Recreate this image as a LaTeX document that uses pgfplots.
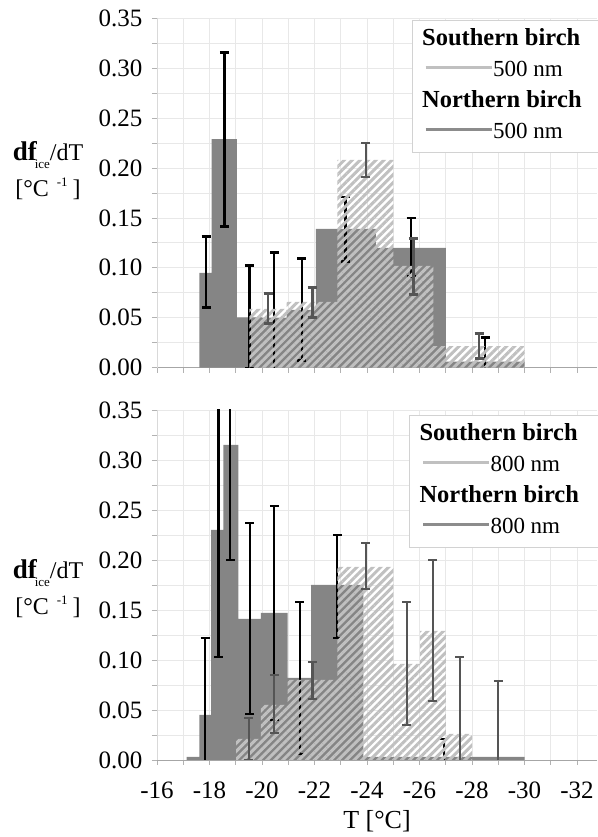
\documentclass[border=0pt]{standalone}
\usepackage{fontspec}
\setmainfont{Liberation Serif}
\usepackage{pgfplots}
\pgfplotsset{compat=1.18}
\usetikzlibrary{patterns.meta}
\definecolor{darkbar}{RGB}{133,133,133}
\definecolor{hatchc}{RGB}{192,192,192}
\definecolor{errgray}{RGB}{85,85,85}
\definecolor{gridc}{RGB}{232,232,232}
\definecolor{legline}{RGB}{140,140,140}

\pgfplotsset{
  panel/.style={
    scale only axis, width=440pt, height=349.5pt,
    x dir=reverse, xmin=-32.76, xmax=-16, ymin=0, ymax=0.35,
    xtick={-32,-30,-28,-26,-24,-22,-20,-18,-16},
    ytick={0,0.05,0.10,0.15,0.20,0.25,0.30,0.35},
    minor x tick num=1, minor y tick num=1,
    grid=both,
    major grid style={gridc, line width=0.8pt},
    minor grid style={gridc, line width=0.8pt},
    axis x line*=bottom, axis y line*=left,
    x axis line style={gray!70, line width=0.8pt},
    y axis line style={gray!30, line width=0.8pt},
    tick align=outside, major tick length=5pt, minor tick length=5pt,
    tick style={gray!60, line width=0.8pt},
    /pgf/number format/assume math mode=true,
    tick label style={font=\fontsize{25}{25}\selectfont},
    yticklabel style={xshift=-6pt, /pgf/number format/.cd, fixed, fixed zerofill, precision=2},
    xticklabel style={yshift=-13pt},
    clip mode=individual,
    every axis y label/.style={at={(axis description cs:-0.2477,0.564)}, anchor=center, align=center, font=\fontsize{24}{36}\selectfont},
    ylabel={{\fontsize{27}{27}\selectfont\bfseries df}\kern-2pt\raisebox{-8pt}{\fontsize{13}{13}\selectfont ice}/dT\\{[}°C\hspace{8pt}\raisebox{10pt}{\fontsize{13}{13}\selectfont -1}\hspace{5pt}{]}},
    legend cell align=left,
    legend style={font=\fontsize{23}{23}\selectfont, nodes={inner sep=0pt, text height=17pt, text depth=6pt},
      row sep=8pt, inner xsep=12pt, inner ysep=8pt, draw=gray!35, line width=0.8pt, fill=white,
      /tikz/every even column/.append style={column sep=5pt}},
  },
  nerr/.style={forget plot, draw=none, mark=none, error bars/.cd, y dir=both, y explicit, error mark=-,
    error bar style={line width=2.2pt, draw=black}, error mark options={rotate=90, draw=black, mark size=4.5pt, line width=2.8pt}},
  serr/.style={forget plot, draw=none, mark=none, error bars/.cd, y dir=both, y explicit, error mark=-,
    error bar style={line width=2.2pt, draw=errgray}, error mark options={rotate=90, draw=errgray, mark size=4.5pt, line width=2.8pt}},
  nbar/.style={const plot, fill=darkbar, draw=none, forget plot},
  sbar/.style={const plot, draw=none, pattern={Lines[angle=45,distance=5.6pt,line width=3pt]}, pattern color=hatchc, forget plot},
}

\begin{document}
\begin{tikzpicture}
% ---------------- top panel: 500 nm ----------------
\begin{axis}[panel, at={(157pt,469.3pt)}, anchor=south west, xticklabels={},
  legend style={at={(axis description cs:0.579,0.995)}, anchor=north west}]
\addplot[nbar] coordinates {(-17.61,0.095) (-18.08,0.229) (-19.04,0.0505) (-20.0,0.05) (-20.94,0.058) (-22.05,0.139) (-24.34,0.120) (-27.0,0.006) (-30.0,0.006)} \closedcycle;
\addplot[nerr] coordinates {
  (-17.87,0.0955) +- (0,0.0355)
  (-18.57,0.2285) +- (0,0.0875)
  (-19.52,0.0505) +- (0,0.0515)
  (-20.47,0.05) +- (0,0.065)
  (-21.51,0.058) +- (0,0.051)
  (-23.18,0.1385) +- (0,0.0325)
  (-25.68,0.1205) +- (0,0.0295)
  (-28.5,0.006) +- (0,0.024)
};
\addplot[sbar] coordinates {(-19.52,0.059) (-20.94,0.066) (-22.87,0.208) (-25.0,0.102) (-26.53,0.0217) (-30.0,0.0217)} \closedcycle;
\addplot[serr] coordinates {
  (-20.24,0.059) +- (0,0.015)
  (-21.92,0.065) +- (0,0.015)
  (-23.96,0.208) +- (0,0.017)
  (-25.77,0.101) +- (0,0.028)
  (-28.27,0.0215) +- (0,0.0125)
};
\addlegendimage{empty legend}
\addlegendentry{\hspace*{-71pt}{\fontsize{24.5}{24.5}\selectfont\bfseries Southern birch}\hspace*{8pt}}
\addlegendimage{legend image code/.code={\draw[hatchc, line width=3pt] (0pt,3pt) -- (66pt,3pt);}}
\addlegendentry{500 nm}
\addlegendimage{empty legend}
\addlegendentry{\hspace*{-71pt}{\fontsize{24.5}{24.5}\selectfont\bfseries Northern birch}\hspace*{8pt}}
\addlegendimage{legend image code/.code={\draw[legline, line width=3pt] (0pt,3pt) -- (66pt,3pt);}}
\addlegendentry{500 nm}
\end{axis}
% ---------------- bottom panel: 800 nm ----------------
\begin{axis}[panel, at={(157pt,77pt)}, anchor=south west, height=350pt,
  every axis y label/.append style={at={(axis description cs:-0.2477,0.491)}},
  xlabel={T [°C]},
  every axis x label/.style={at={(axis description cs:0.5,0)}, anchor=base, yshift=-68pt, font=\fontsize{26}{26}\selectfont},
  legend style={at={(axis description cs:0.573,0.986)}, anchor=north west}]
\addplot[nbar] coordinates {(-17.13,0.003) (-17.61,0.045) (-18.06,0.23) (-18.53,0.315) (-19.1,0.141) (-19.96,0.147) (-20.98,0.082) (-21.87,0.175) (-23.86,0.003) (-30.0,0.003)} \closedcycle;
\addplot[nerr] coordinates {
  (-17.83,0.045) +- (0,0.077)
  (-18.34,0.23) +- (0,0.127)
  (-18.79,0.315) +- (0,0.115)
  (-19.53,0.1415) +- (0,0.0955)
  (-20.47,0.147) +- (0,0.107)
  (-21.44,0.082) +- (0,0.076)
  (-22.87,0.1735) +- (0,0.0515)
  (-26.93,0.002) +- (0,0.019)
};
\addplot[sbar] coordinates {(-19.01,0.021) (-19.96,0.055) (-20.98,0.080) (-22.87,0.193) (-25.0,0.096) (-26.02,0.129) (-27.0,0.026) (-28.0,0.0)} \closedcycle;
\addplot[serr] coordinates {
  (-19.49,0.021) +- (0,0.021)
  (-20.47,0.056) +- (0,0.029)
  (-21.92,0.0795) +- (0,0.0185)
  (-23.96,0.194) +- (0,0.023)
  (-25.51,0.0965) +- (0,0.0615)
  (-26.5,0.1295) +- (0,0.0705)
  (-27.54,0.026) +- (0,0.077)
  (-29.0,0.0) +- (0,0.079)
};
\addlegendimage{empty legend}
\addlegendentry{\hspace*{-71pt}{\fontsize{24.5}{24.5}\selectfont\bfseries Southern birch}\hspace*{8pt}}
\addlegendimage{legend image code/.code={\draw[hatchc, line width=3pt] (0pt,3pt) -- (66pt,3pt);}}
\addlegendentry{800 nm}
\addlegendimage{empty legend}
\addlegendentry{\hspace*{-71pt}{\fontsize{24.5}{24.5}\selectfont\bfseries Northern birch}\hspace*{8pt}}
\addlegendimage{legend image code/.code={\draw[legline, line width=3pt] (0pt,3pt) -- (66pt,3pt);}}
\addlegendentry{800 nm}
\end{axis}
\pgfresetboundingbox
\useasboundingbox (0pt,0pt) rectangle (597pt,837pt);
\end{tikzpicture}
\end{document}
